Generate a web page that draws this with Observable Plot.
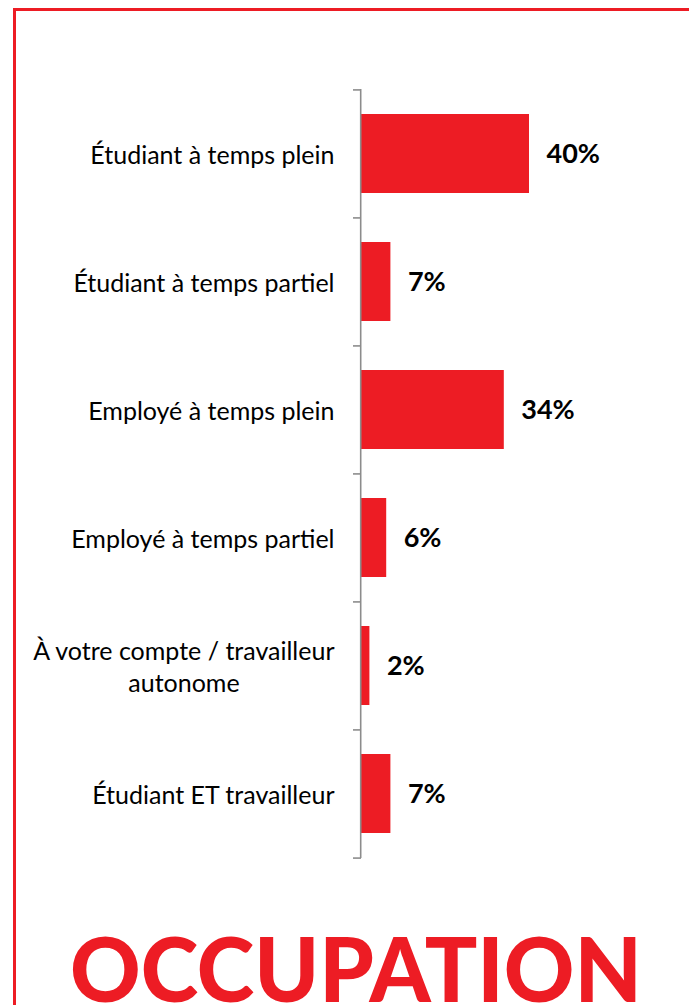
<!DOCTYPE html>
<html>
<head>
<meta charset="utf-8">
<script src="https://cdn.jsdelivr.net/npm/d3@7"></script>
<script src="https://cdn.jsdelivr.net/npm/@observablehq/plot@0.6"></script>
<style>
  html, body { margin: 0; padding: 0; background: #fff; }
  #wrap { position: relative; width: 689px; height: 1005px; overflow: hidden; background: #fff; }
  #frame { position: absolute; left: 13px; top: 8px; width: 800px; height: 1200px; border: 3.5px solid #ED1C24; box-sizing: border-box; }
  #chart { position: absolute; left: 0; top: 0; }
  #title { position: absolute; left: 0; top: 0; }
</style>
</head>
<body>
<div id="wrap">
  <div id="frame"></div>
  <div id="chart"></div>
  <svg id="title" width="689" height="1005"></svg>
</div>
<script>
const categories = [
  "Étudiant à temps plein",
  "Étudiant à temps partiel",
  "Employé à temps plein",
  "Employé à temps partiel",
  "À votre compte / travailleur\nautonome",
  "Étudiant ET travailleur"
];
const values = [40, 7, 34, 6, 2, 7];
const titleText = "OCCUPATION";

const data = categories.map((c, i) => ({category: c, value: values[i]}));

const W = 689, H = 880;
const mTop = 89, mBottom = 22, mLeft = 361, mRight = 34;
const xMax = 70;
const step = (H - mTop - mBottom) / categories.length;
const pxPerUnit = (W - mLeft - mRight) / xMax;
const red = "#ED1C24";
const font = "Lato, 'Open Sans', sans-serif";

const chart = Plot.plot({
  width: W,
  height: H,
  marginTop: mTop,
  marginBottom: mBottom,
  marginLeft: mLeft,
  marginRight: mRight,
  style: {fontFamily: font, background: "transparent"},
  x: {domain: [0, xMax], axis: null},
  y: {domain: categories, axis: null, paddingInner: 0.384, paddingOuter: 0.192},
  marks: [
    Plot.barX(data, {y: "category", x: "value", fill: red}),
    Plot.ruleX([0], {stroke: "#8c8c8c", strokeWidth: 1.6, dx: -0.8}),
    Plot.ruleY(categories, {y: d => d, x1: -8 / pxPerUnit, x2: 0, dy: -step / 2, stroke: "#8c8c8c", strokeWidth: 1.6}),
    Plot.ruleY(categories.slice(-1), {y: d => d, x1: -8 / pxPerUnit, x2: 0, dy: step / 2, stroke: "#8c8c8c", strokeWidth: 1.6}),
    Plot.text(data, {y: "category", x: 0, text: "category", dx: -27, textAnchor: "end", fontSize: 25, lineHeight: 1.27, fill: "#000", className: "cat-labels"}),
    Plot.text(data, {y: "category", x: "value", text: d => d.value + "%", dx: 17, textAnchor: "start", fontSize: 27, fontWeight: "bold", fill: "#000"})
  ]
});
document.getElementById("chart").appendChild(chart);

// center-align multi-line category label lines (as in reference)
d3.select(chart).selectAll(".cat-labels text").each(function() {
  const tspans = this.querySelectorAll("tspan");
  if (tspans.length > 1) {
    const w = this.getBBox().width;
    this.setAttribute("text-anchor", "middle");
    const tr = this.getAttribute("transform") || "";
    this.setAttribute("transform", tr + ` translate(${-w / 2},0)`);
  }
});

// big title at the bottom
d3.select("#title").append("text")
  .attr("x", 70)
  .attr("y", 1002)
  .attr("textLength", 572)
  .attr("lengthAdjust", "spacingAndGlyphs")
  .attr("font-family", font)
  .attr("font-weight", 900)
  .attr("font-size", 90)
  .attr("fill", red)
  .text(titleText);
</script>
</body>
</html>
